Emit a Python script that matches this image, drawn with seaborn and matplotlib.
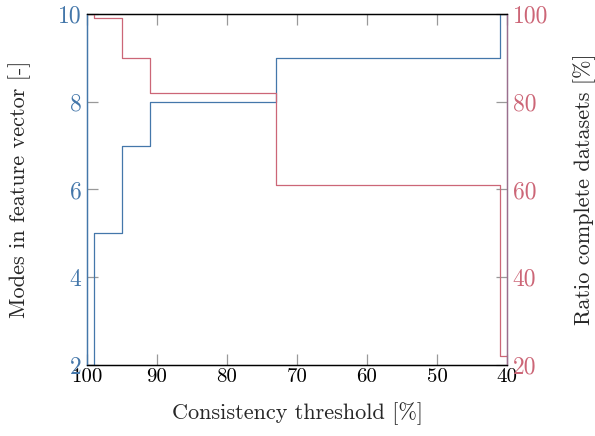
import matplotlib
matplotlib.use("Agg")
import matplotlib.pyplot as plt
import seaborn as sns

thresholds = [100, 99, 95, 91, 73, 41, 40]
modes = [2, 5, 7, 8, 9, 10, 10]
ratio = [100, 99, 90, 82, 61, 22, 22]

xticks = [100, 90, 80, 70, 60, 50, 40]
left_ticks = [2, 4, 6, 8, 10]
right_ticks = [20, 40, 60, 80, 100]

BLUE = "#4477AA"
RED = "#CC6677"

sns.set_theme(style="white")
plt.rcParams["font.family"] = ["cmr10", "DejaVu Serif"]
plt.rcParams["axes.formatter.use_mathtext"] = True

fig = plt.figure(figsize=(5.95, 4.36), dpi=100)
ax = fig.add_axes([87/595, 1-365/436, 420/595, 351/436])
ax2 = ax.twinx()

sns.lineplot(x=thresholds, y=modes, ax=ax, color=BLUE, sort=False,
             estimator=None, drawstyle="steps-post", linewidth=0.9)
sns.lineplot(x=thresholds, y=ratio, ax=ax2, color=RED, sort=False,
             estimator=None, drawstyle="steps-post", linewidth=0.9)

ax.set_xlim(100, 40)
ax.set_ylim(2, 10)
ax2.set_ylim(20, 100)
ax.set_xticks(xticks)
ax.set_xticklabels([str(v) for v in xticks])
ax.set_yticks(left_ticks)
ax.set_yticklabels([str(v) for v in left_ticks])
ax2.set_yticks(right_ticks)
ax2.set_yticklabels([str(v) for v in right_ticks])

ax.tick_params(axis="x", direction="in", length=8, width=0.9, color="#999999",
               labelsize=15, labelcolor="black", top=True, bottom=True, pad=2)
ax.tick_params(axis="y", direction="in", length=8, width=0.9, color="#999999",
               labelsize=17, labelcolor=BLUE, left=True, right=False, pad=4)
ax2.tick_params(axis="y", direction="in", length=8, width=0.9, color="#999999",
                labelsize=17, labelcolor=RED, right=True, left=False, pad=4)

for a in (ax, ax2):
    for s in a.spines.values():
        s.set_linewidth(0.9)
        s.set_color("black")
ax.spines["left"].set_color(BLUE)
ax2.spines["left"].set_color(BLUE)
ax2.spines["right"].set_color("#9a6f8e")
ax.spines["right"].set_color("#9a6f8e")

ax.set_xlabel("Consistency threshold [%]", fontsize=16, labelpad=12)
ax.set_ylabel("Modes in feature vector [-]", fontsize=16, labelpad=19)
ax2.set_ylabel("Ratio complete datasets [%]", fontsize=16, labelpad=18)

fig.savefig("out.png", dpi=100)
